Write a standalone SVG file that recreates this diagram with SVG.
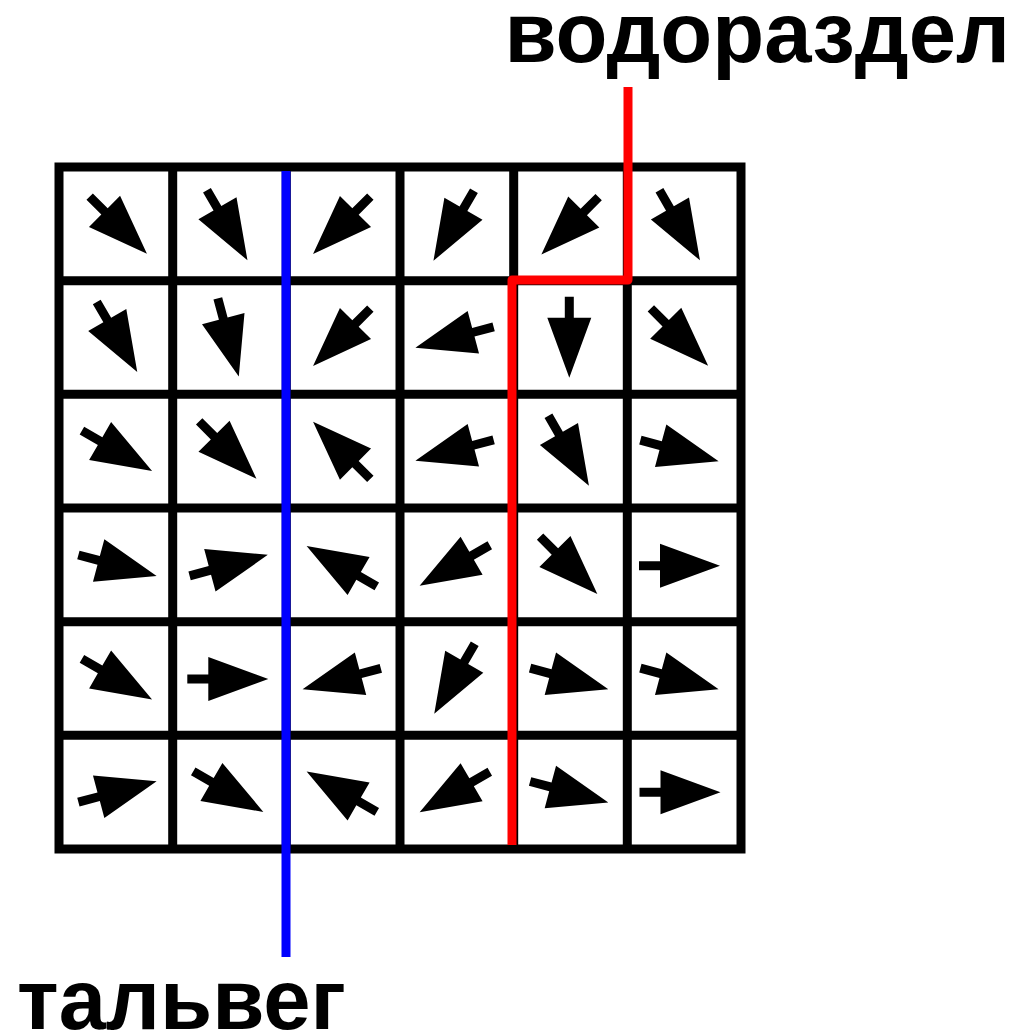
<svg xmlns="http://www.w3.org/2000/svg" xmlns:xlink="http://www.w3.org/1999/xlink" width="1019" height="1035" viewBox="0 0 1019 1035">
<style>
.grid{fill:none;stroke:#000;stroke-width:9}
.lbl{font-family:"Liberation Sans",Arial,sans-serif;font-weight:bold;font-size:85px;fill:#000}
.arr{fill:#000}
</style>
<defs>
<path id="arr" class="arr" d="M-40.5,-4.5H-19.5V-22L40.5,0L-19.5,22V4.5H-40.5Z"/>
</defs>
<rect width="1019" height="1035" fill="#fff"/>
<g id="grid" class="grid">
<rect x="59" y="167" width="682" height="682"/>
<path d="M172.7,167V849M286.3,167V849M400,167V849M513.7,167V849M627.3,167V849M59,280.7H741M59,394.3H741M59,508H741M59,621.7H741M59,735.3H741"/>
</g>
<g id="arrows">
<g id="r1c1"><use xlink:href="#arr" transform="translate(118.3,225.2) rotate(45)"/></g>
<g id="r1c2"><use xlink:href="#arr" transform="translate(227.2,225.2) rotate(60)"/></g>
<g id="r1c3"><use xlink:href="#arr" transform="translate(341.7,225.3) rotate(135)"/></g>
<g id="r1c4"><use xlink:href="#arr" transform="translate(453.7,225.7) rotate(120)"/></g>
<g id="r1c5"><use xlink:href="#arr" transform="translate(570,225.8) rotate(135)"/></g>
<g id="r1c6"><use xlink:href="#arr" transform="translate(679.7,225.3) rotate(60)"/></g>
<g id="r2c1"><use xlink:href="#arr" transform="translate(117,337) rotate(60)"/></g>
<g id="r2c2"><use xlink:href="#arr" transform="translate(228.3,337.5) rotate(75)"/></g>
<g id="r2c3"><use xlink:href="#arr" transform="translate(341.7,337.3) rotate(135)"/></g>
<g id="r2c4"><use xlink:href="#arr" transform="translate(454.5,337.3) rotate(165)"/></g>
<g id="r2c5"><use xlink:href="#arr" transform="translate(569.3,337.2) rotate(90)"/></g>
<g id="r2c6"><use xlink:href="#arr" transform="translate(679.5,337) rotate(45)"/></g>
<g id="r3c1"><use xlink:href="#arr" transform="translate(117,450.8) rotate(30)"/></g>
<g id="r3c2"><use xlink:href="#arr" transform="translate(227.8,450) rotate(45)"/></g>
<g id="r3c3"><use xlink:href="#arr" transform="translate(341.7,450.3) rotate(225)"/></g>
<g id="r3c4"><use xlink:href="#arr" transform="translate(454.5,450.3) rotate(165)"/></g>
<g id="r3c5"><use xlink:href="#arr" transform="translate(568.7,450.8) rotate(60)"/></g>
<g id="r3c6"><use xlink:href="#arr" transform="translate(679.5,450.7) rotate(15)"/></g>
<g id="r4c1"><use xlink:href="#arr" transform="translate(117.5,565.5) rotate(15)"/></g>
<g id="r4c2"><use xlink:href="#arr" transform="translate(228.7,565.3) rotate(-15)"/></g>
<g id="r4c3"><use xlink:href="#arr" transform="translate(341.7,566.2) rotate(210)"/></g>
<g id="r4c4"><use xlink:href="#arr" transform="translate(454.7,565.5) rotate(150)"/></g>
<g id="r4c5"><use xlink:href="#arr" transform="translate(568.7,565.3) rotate(45)"/></g>
<g id="r4c6"><use xlink:href="#arr" transform="translate(679.5,565.7) rotate(0)"/></g>
<g id="r5c1"><use xlink:href="#arr" transform="translate(117,679.2) rotate(30)"/></g>
<g id="r5c2"><use xlink:href="#arr" transform="translate(227.8,679) rotate(0)"/></g>
<g id="r5c3"><use xlink:href="#arr" transform="translate(341.7,678.8) rotate(165)"/></g>
<g id="r5c4"><use xlink:href="#arr" transform="translate(454.5,678.7) rotate(120)"/></g>
<g id="r5c5"><use xlink:href="#arr" transform="translate(569.2,678.7) rotate(15)"/></g>
<g id="r5c6"><use xlink:href="#arr" transform="translate(679.5,678.7) rotate(15)"/></g>
<g id="r6c1"><use xlink:href="#arr" transform="translate(117.5,791.7) rotate(-15)"/></g>
<g id="r6c2"><use xlink:href="#arr" transform="translate(228.3,791.7) rotate(30)"/></g>
<g id="r6c3"><use xlink:href="#arr" transform="translate(341.7,791.7) rotate(210)"/></g>
<g id="r6c4"><use xlink:href="#arr" transform="translate(454.7,792) rotate(150)"/></g>
<g id="r6c5"><use xlink:href="#arr" transform="translate(569.2,792) rotate(15)"/></g>
<g id="r6c6"><use xlink:href="#arr" transform="translate(680,792.3) rotate(0)"/></g>
</g>
<g id="connectors" fill="none">
<path id="talweg-line" d="M286,171V957" stroke="#0000ff" stroke-width="9"/>
<path id="divide-line" d="M628,87V280H512V845" stroke="#ff0000" stroke-width="9" stroke-linejoin="round"/>
</g>
<g id="label-divide"><text class="lbl" x="1010" y="62" text-anchor="end">водораздел</text></g>
<g id="label-talweg"><text class="lbl" x="17" y="1029">тальвег</text></g>
</svg>
